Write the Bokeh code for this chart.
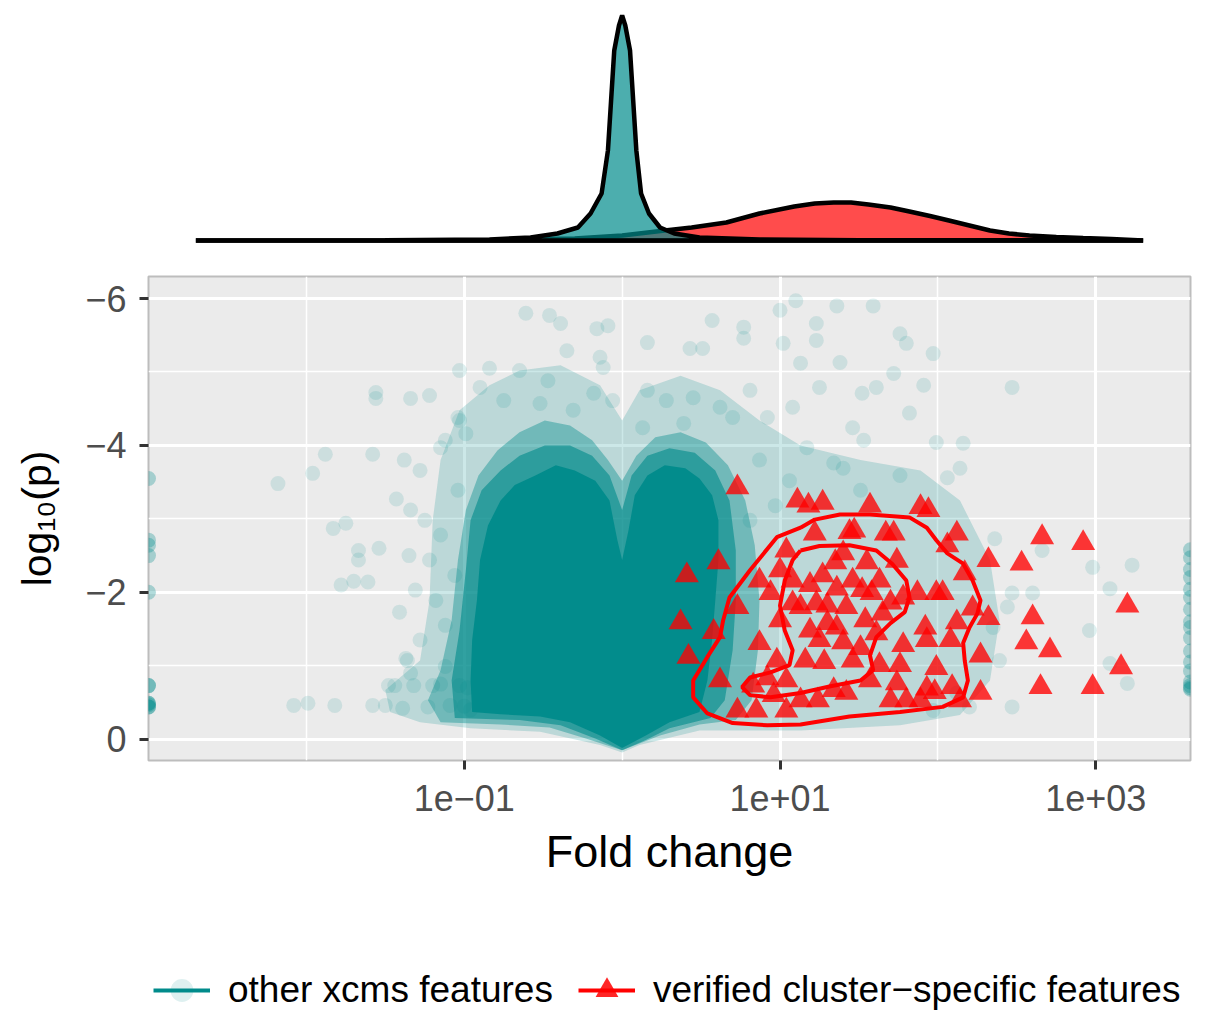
import numpy as np
from bokeh.plotting import figure
from bokeh.layouts import column
from bokeh.models import Range1d, FixedTicker, Legend, LegendItem
from bokeh.embed import file_html
from bokeh.resources import INLINE

FONT = "Liberation Sans"
TEAL = "#008B8B"
RED = "#FF0000"

# ---------------- axes / labels ----------------
x_ticks = [0.1, 10, 1000]
x_tick_labels = ["1e\u221201", "1e+01", "1e+03"]
x_minor = [0.01, 1, 100]
y_ticks = [-6, -4, -2, 0]
y_tick_labels = ["\u22126", "\u22124", "\u22122", "0"]
y_minor = [-5, -3, -1]
x_title = "Fold change"
y_title = "log\u2081\u2080(p)"
legend_labels = ["other xcms features", "verified cluster\u2212specific features"]
x_lim_log = (-3.0, 3.6)
y_lim = (0.29, -6.30)

# ---------------- data (log10 fold change, log10 p) ----------------
# verified cluster-specific features (triangles)
ver_pts = [
    (0.73, -3.43), (0.61, -2.41), (0.41, -2.23), (0.37, -1.59), (0.42, -1.12), (0.73, -1.80), (0.87, -1.31),
    (0.94, -1.99), (1.04, -2.57), (1.00, -2.30), (1.08, -2.16), (1.08, -1.85), (0.58, -1.46), (0.98, -1.07),
    (0.92, -0.83), (0.83, -0.73), (1.04, -0.80), (0.62, -0.80), (0.73, -0.39), (0.85, -0.39), (1.04, -0.39),
    (1.11, -3.25), (1.27, -3.22), (1.18, -3.18), (1.57, -3.18), (1.89, -3.16), (1.94, -3.12), (2.12, -2.80),
    (2.06, -2.64), (2.66, -2.75), (2.92, -2.67), (2.32, -2.44), (2.53, -2.39), (2.17, -2.26), (3.20, -1.82),
    (2.60, -1.66), (2.32, -1.65), (2.22, -1.78), (2.12, -1.59), (2.56, -1.32), (2.71, -1.21), (2.27, -1.14),
    (3.16, -0.98), (2.65, -0.71), (2.98, -0.71), (2.27, -0.63), (1.99, -0.97), (2.09, -0.71), (1.98, -0.64),
    (1.92, -1.52), (1.93, -1.35), (2.03, -1.99), (1.99, -1.99), (1.87, -1.99), (1.78, -1.93), (1.70, -1.86),
    (1.63, -2.16), (1.58, -1.99), (1.72, -2.80), (1.67, -2.80), (1.44, -2.82), (1.22, -2.80), (1.40, -2.53),
    (1.35, -2.41), (1.55, -2.41), (1.27, -2.23), (1.46, -2.16), (1.19, -2.10), (1.36, -2.05), (1.23, -1.85),
    (1.42, -1.80), (1.65, -1.71), (1.13, -1.80), (1.30, -1.58), (1.36, -1.52), (1.61, -1.44), (1.40, -1.32),
    (1.19, -1.48), (1.51, -1.24), (1.28, -1.05), (1.46, -1.07), (1.76, -1.01), (1.63, -1.01), (1.34, -0.67),
    (1.42, -0.63), (1.70, -0.53), (1.80, -0.53), (1.74, -0.76), (1.93, -0.69), (1.89, -0.53), (1.13, -0.53),
    (1.47, -2.84), (1.54, -1.62), (1.25, -1.35), (1.16, -1.07), (1.57, -0.80), (1.24, -0.53), (1.52, -2.03),
    (1.74, -2.43), (1.00, -1.62), (0.96, -0.60), (1.78, -1.28), (1.30, -1.82), (0.87, -2.16), (2.08, -1.35),
    (2.14, -0.53),
]

# 2D-density contours of the verified features
outer_contour = [
    (1.13, -2.88), (0.98, -2.75), (0.81, -2.30), (0.68, -1.93), (0.64, -1.62), (0.62, -1.39), (0.54, -1.12),
    (0.45, -0.80), (0.45, -0.57), (0.54, -0.35), (0.70, -0.22), (0.92, -0.19), (1.13, -0.20), (1.44, -0.31),
    (1.76, -0.37), (2.03, -0.44), (2.16, -0.57), (2.19, -0.80), (2.17, -1.07), (2.16, -1.31), (2.20, -1.52),
    (2.25, -1.71), (2.27, -1.89), (2.22, -2.16), (2.16, -2.39), (2.06, -2.53), (1.99, -2.71), (1.93, -2.88),
    (1.82, -3.02), (1.57, -3.06), (1.38, -3.06), (1.22, -2.99), (1.13, -2.88),
]
inner_contour = [
    (1.13, -2.57), (1.25, -2.63), (1.44, -2.64), (1.61, -2.57), (1.71, -2.39), (1.80, -2.16), (1.82, -1.93),
    (1.79, -1.73), (1.70, -1.58), (1.61, -1.39), (1.57, -1.14), (1.59, -0.94), (1.51, -0.80), (1.32, -0.72),
    (1.13, -0.63), (0.94, -0.57), (0.81, -0.60), (0.76, -0.71), (0.81, -0.84), (0.94, -0.91), (1.06, -1.01),
    (1.08, -1.21), (1.03, -1.48), (1.00, -1.82), (1.03, -2.16), (1.08, -2.44), (1.13, -2.57),
]

# other xcms features: outlines of the saturated / dense / semi-dense point masses
core_outline = [
    (-0.95, -0.37), (-0.96, -0.80), (-0.95, -1.35), (-0.92, -1.89), (-0.90, -2.44), (-0.85, -2.91), (-0.77, -3.25),
    (-0.68, -3.46), (-0.55, -3.59), (-0.42, -3.73), (-0.30, -3.66), (-0.17, -3.52), (-0.08, -3.25), (-0.03, -2.71),
    (0.00, -2.44), (0.04, -2.84), (0.08, -3.32), (0.16, -3.59), (0.27, -3.73), (0.40, -3.69), (0.49, -3.55),
    (0.57, -3.32), (0.61, -2.98), (0.61, -2.44), (0.59, -1.89), (0.57, -1.35), (0.54, -0.80), (0.49, -0.37),
    (0.30, -0.23), (0.15, -0.05), (0.00, 0.12), (-0.14, -0.05), (-0.33, -0.23), (-0.52, -0.31), (-0.77, -0.34),
]
dense_outline = [
    (-1.06, -0.29), (-1.08, -0.80), (-1.03, -1.48), (-0.99, -2.30), (-0.96, -2.98), (-0.89, -3.39), (-0.77, -3.66),
    (-0.65, -3.86), (-0.49, -4.00), (-0.33, -4.00), (-0.19, -3.86), (-0.08, -3.59), (0.00, -3.12), (0.06, -3.59),
    (0.16, -3.86), (0.30, -3.96), (0.46, -3.90), (0.59, -3.66), (0.68, -3.25), (0.72, -2.57), (0.72, -1.89),
    (0.70, -1.21), (0.65, -0.53), (0.56, -0.29), (0.30, -0.15), (0.15, 0.01), (0.00, 0.15), (-0.17, -0.01),
    (-0.39, -0.19), (-0.65, -0.26),
]
mid_outline = [
    (-1.15, -0.23), (-1.23, -0.53), (-1.15, -0.94), (-1.08, -1.62), (-1.04, -2.44), (-0.99, -3.12), (-0.91, -3.59),
    (-0.79, -3.93), (-0.65, -4.18), (-0.49, -4.34), (-0.33, -4.27), (-0.19, -4.07), (-0.09, -3.80), (0.00, -3.52),
    (0.09, -3.86), (0.21, -4.11), (0.37, -4.18), (0.53, -4.04), (0.67, -3.73), (0.78, -3.25), (0.84, -2.64),
    (0.87, -1.89), (0.86, -1.21), (0.82, -0.53), (0.72, -0.26), (0.49, -0.20), (0.24, -0.05), (0.00, 0.15),
    (-0.23, -0.01), (-0.46, -0.16), (-0.77, -0.20),
]
outer_outline = [
    (-1.47, -0.37), (-1.50, -0.67), (-1.28, -1.07), (-1.22, -1.89), (-1.20, -2.98), (-1.15, -3.80), (-1.03, -4.48),
    (-0.84, -4.82), (-0.65, -5.02), (-0.39, -5.09), (-0.14, -4.82), (0.00, -4.34), (0.11, -4.75), (0.37, -4.95),
    (0.62, -4.75), (0.87, -4.34), (1.13, -4.00), (1.51, -3.80), (1.89, -3.66), (2.14, -3.25), (2.33, -2.44),
    (2.39, -1.62), (2.33, -0.80), (2.14, -0.33), (1.76, -0.19), (1.13, -0.12), (0.49, -0.12), (0.11, 0.08),
    (0.00, 0.18), (-0.14, 0.08), (-0.52, -0.10), (-0.96, -0.15), (-1.28, -0.23),
]
# individual sparse points
other_pts = [
    (-2.18, -3.48), (-1.96, -3.62), (-1.88, -3.88), (-1.56, -4.72), (-1.56, -4.64), (-1.58, -3.88), (-1.83, -2.87),
    (-1.75, -2.94), (-1.67, -2.57), (-1.67, -2.44), (-1.54, -2.60), (-1.78, -2.10), (-1.70, -2.15), (-1.61, -2.14),
    (-2.08, -0.46), (-1.99, -0.49), (-1.82, -0.46), (-1.58, -0.46), (-1.50, -0.46), (-1.48, -0.73), (-1.44, -0.73),
    (-1.32, -0.73), (-1.20, -0.73), (-1.03, -0.73), (-1.39, -0.42), (-1.23, -0.44), (-1.09, -0.46), (-1.34, -0.90),
    (-1.36, -1.07), (-1.34, -4.64), (-1.22, -4.68), (-1.38, -3.80), (-1.28, -3.66), (-1.43, -3.27), (-1.34, -3.12),
    (-1.25, -2.98), (-1.15, -2.78), (-1.35, -2.50), (-1.22, -2.44), (-1.31, -2.03), (-1.18, -1.89), (-1.41, -1.73),
    (-1.12, -1.55), (-1.28, -1.35), (-1.37, -1.10), (-1.12, -0.99), (-1.06, -2.23), (-1.04, -3.39), (-1.12, -4.07),
    (-1.03, -4.34), (-1.15, -0.75), (-0.98, -0.70), (-1.00, -0.45), (-0.96, -0.40),
    (-0.61, -5.80), (-0.46, -5.77), (-0.39, -5.66), (-0.16, -5.59), (-0.09, -5.63), (0.16, -5.40), (0.57, -5.70),
    (0.77, -5.61), (0.77, -5.46), (0.43, -5.32), (0.51, -5.32), (1.00, -5.84), (1.02, -5.39), (-1.03, -5.02),
    (-0.84, -5.05), (-0.65, -5.02), (-0.47, -4.88), (-0.35, -5.29), (-0.14, -5.20), (-0.12, -5.06), (-0.90, -4.79),
    (-0.75, -4.61), (-0.52, -4.57), (-0.31, -4.48), (-0.18, -4.71), (-0.06, -4.61), (0.16, -4.75), (0.28, -4.61),
    (0.45, -4.65), (0.62, -4.52), (0.81, -4.75), (0.70, -4.38), (0.92, -4.38), (1.08, -4.52), (-1.04, -4.38),
    (-0.99, -4.16), (0.13, -4.24), (0.39, -4.30), (-1.15, -3.97),
    (1.36, -5.90), (1.59, -5.90), (1.23, -5.66), (1.23, -5.43), (1.38, -5.13), (1.76, -5.52), (1.80, -5.39),
    (1.97, -5.25), (1.72, -4.98), (2.47, -4.79), (1.25, -4.79), (1.52, -4.71), (1.61, -4.79), (1.91, -4.82),
    (1.82, -4.44), (1.46, -4.24), (1.53, -4.07), (1.99, -4.04), (1.34, -3.76), (1.40, -3.69), (1.76, -3.59),
    (2.06, -3.56), (2.14, -3.69), (1.51, -3.39), (1.17, -3.97), (1.13, -5.12), (1.10, -5.97), (2.16, -4.03),
    (2.36, -2.73), (2.66, -2.57), (2.98, -2.34), (3.23, -2.37), (3.09, -2.05), (2.96, -1.48), (2.47, -1.99),
    (2.44, -1.80), (2.60, -1.99), (3.09, -1.03), (3.20, -0.76), (2.47, -0.44), (2.35, -1.52), (2.39, -1.07),
    (2.20, -0.44), (1.97, -0.39), (2.12, -0.63), (0.87, -3.80), (1.06, -3.52), (0.97, -3.18), (0.81, -2.98),
]
# features with zero / infinite fold change (squished to panel edges)
edge_left_lp = [-3.55, -2.71, -2.64, -2.50, -2.00, -0.73, -0.73, -0.49, -0.49, -0.44, -0.44, -0.47]
edge_right_lp = [-2.58, -2.47, -2.31, -2.20, -2.04, -1.93, -1.77, -1.60, -1.52, -1.38, -1.20, -1.05,
                 -0.93, -0.78, -0.68, -0.73, -0.70]

# marginal densities of log10 fold change
teal_dens_lfc = [-2.70, -1.50, -0.84, -0.58, -0.41, -0.28, -0.20, -0.13, -0.09, -0.07, -0.05, -0.02, 0.00,
                 0.02, 0.05, 0.07, 0.09, 0.12, 0.17, 0.24, 0.33, 0.49, 0.87, 1.50, 3.30]
teal_dens = [0.0, 0.003, 0.01, 0.03, 0.07, 0.13, 0.27, 0.47, 0.90, 1.40, 1.90, 2.15, 2.25,
             2.15, 1.90, 1.40, 0.90, 0.47, 0.27, 0.13, 0.07, 0.03, 0.01, 0.003, 0.0]
red_dens_lfc = [-2.70, -1.50, -0.80, -0.30, 0.00, 0.27, 0.44, 0.66, 0.87, 1.09, 1.22, 1.34, 1.45, 1.56,
                1.70, 1.82, 1.95, 2.07, 2.20, 2.33, 2.45, 2.58, 2.75, 2.92, 3.10, 3.30]
red_dens = [0.0, 0.002, 0.005, 0.02, 0.05, 0.10, 0.13, 0.18, 0.27, 0.34, 0.37, 0.38, 0.38, 0.36,
            0.33, 0.29, 0.245, 0.20, 0.15, 0.10, 0.07, 0.05, 0.035, 0.025, 0.015, 0.0]


def fc(v):
    return 10 ** np.asarray(v, dtype=float)


def split(pts):
    a = np.array(pts, dtype=float)
    return fc(a[:, 0]), a[:, 1]


x_range = Range1d(10 ** x_lim_log[0], 10 ** x_lim_log[1])

# ---------------- marginal density ----------------
W = 1214
p1 = figure(width=W, height=262, x_axis_type="log", x_range=x_range, y_range=Range1d(-0.22, 2.40),
            output_backend="svg", toolbar_location=None, x_axis_location=None, y_axis_location=None,
            min_border_left=148, min_border_right=24, min_border_top=0, min_border_bottom=0)
p1.xgrid.visible = False
p1.ygrid.visible = False
p1.outline_line_color = None
p1.background_fill_color = "white"
p1.patch(fc(red_dens_lfc), red_dens, fill_color=RED, fill_alpha=0.7, line_color="black", line_width=4.5)
p1.patch(fc(teal_dens_lfc), teal_dens, fill_color=TEAL, fill_alpha=0.7, line_color="black", line_width=4.5)

# ---------------- main panel ----------------
p = figure(width=W, height=692, x_axis_type="log", x_range=x_range, y_range=Range1d(*y_lim),
           output_backend="svg", toolbar_location=None,
           min_border_left=148, min_border_right=24, min_border_top=14, min_border_bottom=194)
p.background_fill_color = "#EBEBEB"
p.border_fill_color = "white"
p.outline_line_color = "#BDBDBD"
p.outline_line_width = 2

p.xaxis.ticker = FixedTicker(ticks=x_ticks, minor_ticks=x_minor)
p.yaxis.ticker = FixedTicker(ticks=y_ticks, minor_ticks=y_minor)
p.xaxis.major_label_overrides = dict(zip(x_ticks, x_tick_labels))
p.yaxis.major_label_overrides = dict(zip(y_ticks, y_tick_labels))
for g in (p.xgrid, p.ygrid):
    g.grid_line_color = "white"
    g.grid_line_width = 3
    g.minor_grid_line_color = "white"
    g.minor_grid_line_width = 1.5
for ax in (p.xaxis, p.yaxis):
    ax.axis_line_color = None
    ax.major_tick_line_color = "#333333"
    ax.major_tick_line_width = 3
    ax.major_tick_out = 9
    ax.major_tick_in = 0
    ax.minor_tick_line_color = None
    ax.major_label_text_font = FONT
    ax.major_label_text_font_size = "36px"
    ax.major_label_text_color = "#4D4D4D"
    ax.axis_label_text_font = FONT
    ax.axis_label_text_font_style = "normal"
    ax.axis_label_text_color = "black"
p.xaxis.axis_label = x_title
p.xaxis.axis_label_text_font_size = "45px"
p.xaxis.major_label_standoff = 15
p.xaxis.axis_label_standoff = 12
p.yaxis.axis_label = y_title
p.yaxis.axis_label_text_font_size = "41px"
p.yaxis.major_label_standoff = 13
p.yaxis.axis_label_standoff = 22

ox, oy = split(outer_outline)
p.patch(ox, oy, fill_color=TEAL, fill_alpha=0.2, line_color=None)
mx, my = split(mid_outline)
p.patch(mx, my, fill_color=TEAL, fill_alpha=0.4, line_color=None)
dx, dy = split(dense_outline)
p.patch(dx, dy, fill_color=TEAL, fill_alpha=0.6, line_color=None)
px_, py_ = split(other_pts)
p.scatter(px_, py_, size=15, fill_color=TEAL, fill_alpha=0.13, line_color=None)
p.scatter(np.full(len(edge_left_lp), 10 ** x_lim_log[0]), edge_left_lp, size=15,
          fill_color=TEAL, fill_alpha=0.3, line_color=None)
p.scatter(np.full(len(edge_right_lp), 10 ** x_lim_log[1]), edge_right_lp, size=15,
          fill_color=TEAL, fill_alpha=0.3, line_color=None)
cx, cy = split(core_outline)
p.patch(cx, cy, fill_color=TEAL, fill_alpha=0.95, line_color=None)

vx, vy = split(ver_pts)
p.scatter(vx, vy, marker="triangle", size=24, fill_color=RED, fill_alpha=0.78, line_color=None)
for cont in (outer_contour, inner_contour):
    lx, ly = split(cont)
    p.line(lx, ly, line_color=RED, line_width=4)

# ---------------- legend strip ----------------
lf = figure(width=W, height=56, x_range=Range1d(0, 1), y_range=Range1d(0, 1),
            output_backend="svg", toolbar_location=None, x_axis_location=None, y_axis_location=None,
            min_border_left=0, min_border_right=0, min_border_top=0, min_border_bottom=0)
lf.xgrid.visible = False
lf.ygrid.visible = False
lf.outline_line_color = None
nan = [np.nan]
l_tc = lf.scatter(nan, nan, size=15, fill_color=TEAL, fill_alpha=0.13, line_color=None)
l_tl = lf.line(nan, nan, line_color=TEAL, line_width=4)
l_rl = lf.line(nan, nan, line_color=RED, line_width=4)
l_rt = lf.scatter(nan, nan, marker="triangle", size=23, fill_color=RED, fill_alpha=0.85, line_color=None)
legend = Legend(items=[LegendItem(label=legend_labels[0], renderers=[l_tc, l_tl]),
                       LegendItem(label=legend_labels[1], renderers=[l_rl, l_rt])],
                orientation="horizontal", location=(5, -9), glyph_width=57, glyph_height=58,
                label_standoff=18, spacing=25, padding=0, margin=0,
                border_line_color=None, background_fill_alpha=0,
                label_text_font=FONT, label_text_font_size="37px", label_text_color="black")
lf.add_layout(legend)

layout = column(p1, p, lf, spacing=0)
open("out.html", "w").write(file_html(layout, INLINE))
